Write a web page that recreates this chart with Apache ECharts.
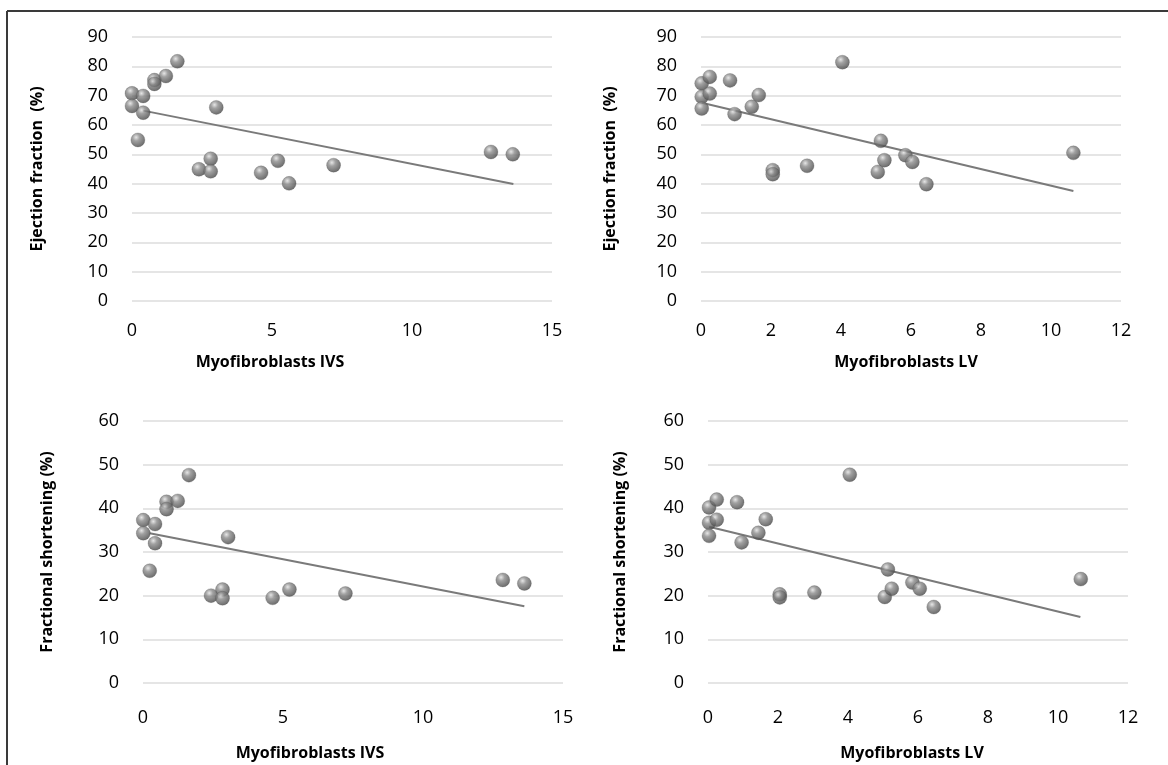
<!DOCTYPE html>
<html>
<head>
<meta charset="utf-8">
<script src="https://cdn.jsdelivr.net/npm/echarts@6/dist/echarts.min.js"></script>
<style>
html,body{margin:0;padding:0;background:#fff;}
#chart{width:1168px;height:765px;}
</style>
</head>
<body>
<div id="chart"></div>
<script>
// ---- Data ----
// Panel A: Ejection fraction vs Myofibroblasts IVS
const ivsA_x = [0, 0, 0.40, 0.40, 0.21, 0.80, 0.80, 1.21, 1.62, 3.01, 2.39, 2.81, 2.81, 4.61, 5.21, 5.61, 7.20, 12.82, 13.60];
const efA_y  = [70.8, 66.5, 69.9, 64.2, 54.9, 75.3, 74.0, 76.7, 81.7, 66.0, 44.9, 48.5, 44.2, 43.7, 47.8, 40.1, 46.3, 50.8, 50.0];
const trendA = [[0.40, 64.9], [13.62, 39.9]];

// Panel B: Ejection fraction vs Myofibroblasts LV
const lvB_x = [0.02, 0.02, 0.02, 0.25, 0.25, 0.83, 0.96, 1.45, 1.65, 2.05, 2.05, 3.03, 4.04, 5.14, 5.24, 5.05, 5.84, 6.04, 6.44, 10.64];
const efB_y = [74.2, 69.6, 65.6, 76.4, 70.7, 75.2, 63.7, 66.2, 70.2, 44.6, 43.2, 46.1, 81.4, 54.6, 48.0, 44.0, 49.7, 47.4, 39.8, 50.5];
const trendB = [[0.02, 67.6], [10.64, 37.5]];

// Panel C: Fractional shortening vs Myofibroblasts IVS
const ivsC_x = [0.01, 0.01, 0.43, 0.43, 0.24, 0.84, 0.84, 1.24, 1.64, 3.04, 2.43, 2.84, 2.84, 4.63, 5.23, 7.23, 12.85, 13.62];
const fsC_y  = [37.3, 34.3, 36.4, 32.0, 25.7, 41.5, 39.8, 41.7, 47.6, 33.4, 20.0, 21.4, 19.4, 19.5, 21.4, 20.5, 23.6, 22.8];
const trendC = [[0.24, 34.3], [13.62, 17.6]];

// Panel D: Fractional shortening vs Myofibroblasts LV
const lvD_x = [0.03, 0.03, 0.03, 0.25, 0.25, 0.83, 0.96, 1.44, 1.65, 2.05, 2.05, 3.04, 4.05, 5.14, 5.05, 5.25, 5.84, 6.05, 6.45, 10.65];
const fsD_y = [40.2, 36.7, 33.7, 42.0, 37.4, 41.4, 32.2, 34.4, 37.5, 20.3, 19.6, 20.7, 47.7, 26.0, 19.7, 21.6, 23.0, 21.6, 17.4, 23.8];
const trendD = [[0.03, 35.8], [10.64, 15.1]];

// Axis settings
const xMaxIVS = 15, xIntIVS = 5;
const xMaxLV = 12, xIntLV = 2;
const yMaxEF = 90, yIntEF = 10;
const yMaxFS = 60, yIntFS = 10;

const xNameIVS = 'Myofibroblasts IVS';
const xNameLV = 'Myofibroblasts LV';
const yNameEF = 'Ejection fraction  (%)';
const yNameFS = 'Fractional shortening (%)';

// ---- Build chart ----
const zip = (xs, ys) => xs.map((x, i) => [x, ys[i]]);
const FONT = '"Open Sans", "Liberation Sans", sans-serif';

const sphere = {
  type: 'radial', x: 0.38, y: 0.32, r: 0.7,
  colorStops: [
    {offset: 0, color: '#e0e0e0'},
    {offset: 0.35, color: '#8a8a8a'},
    {offset: 0.8, color: '#5a5a5a'},
    {offset: 1, color: '#454545'}
  ]
};

function xAxis(gi, max, interval, name, margin, nameGap, shift) {
  return {
    gridIndex: gi, type: 'value', min: 0, max: max, interval: interval,
    axisLine: {show: false}, axisTick: {show: false},
    splitLine: {show: false},
    axisLabel: {color: '#000', fontFamily: FONT, fontSize: 18, margin: margin},
    name: name, nameLocation: 'middle', nameGap: nameGap,
    nameTextStyle: {color: '#000', fontFamily: FONT, fontSize: 16, fontWeight: 'bold',
      padding: [0, shift * 2, 0, 0]}
  };
}
function yAxis(gi, max, interval, name, nameGap) {
  return {
    gridIndex: gi, type: 'value', min: 0, max: max, interval: interval,
    axisLine: {show: false}, axisTick: {show: false},
    splitLine: {show: true, lineStyle: {color: '#dcdcdc', width: 1.5}},
    axisLabel: {color: '#000', fontFamily: FONT, fontSize: 18, margin: 24},
    name: name, nameLocation: 'middle', nameGap: nameGap, nameRotate: 90,
    nameTextStyle: {color: '#000', fontFamily: FONT, fontSize: 16, fontWeight: 'bold'}
  };
}
function scatter(i, data) {
  return {
    type: 'scatter', xAxisIndex: i, yAxisIndex: i, data: data,
    symbol: 'circle', symbolSize: 14,
    itemStyle: {color: sphere, borderColor: 'rgba(70,70,70,0.6)', borderWidth: 0.5},
    z: 3, silent: true
  };
}
function trend(i, data) {
  return {
    type: 'line', xAxisIndex: i, yAxisIndex: i, data: data,
    symbol: 'none', lineStyle: {color: '#7a7a7a', width: 2}, z: 2, silent: true
  };
}

const chart = echarts.init(document.getElementById('chart'), null, {renderer: 'canvas'});
chart.setOption({
  backgroundColor: '#fff',
  animation: false,
  graphic: [
    {type: 'line', shape: {x1: 7, y1: 11, x2: 1168, y2: 11}, style: {stroke: '#3a3a3a', lineWidth: 2}},
    {type: 'line', shape: {x1: 7, y1: 11, x2: 7, y2: 765}, style: {stroke: '#3a3a3a', lineWidth: 2}}
  ],
  grid: [
    {left: 132, right: 616, top: 37, bottom: 464},
    {left: 701, right: 47, top: 37, bottom: 464},
    {left: 143, right: 605, top: 421, bottom: 82},
    {left: 708, right: 40, top: 421, bottom: 82}
  ],
  xAxis: [
    xAxis(0, xMaxIVS, xIntIVS, xNameIVS, 21, 53, 72),
    xAxis(1, xMaxLV, xIntLV, xNameLV, 21, 53, 5),
    xAxis(2, xMaxIVS, xIntIVS, xNameIVS, 26, 62, 43),
    xAxis(3, xMaxLV, xIntLV, xNameLV, 26, 62, 6)
  ],
  yAxis: [
    yAxis(0, yMaxEF, yIntEF, yNameEF, 87),
    yAxis(1, yMaxEF, yIntEF, yNameEF, 83),
    yAxis(2, yMaxFS, yIntFS, yNameFS, 88),
    yAxis(3, yMaxFS, yIntFS, yNameFS, 80)
  ],
  series: [
    trend(0, trendA), scatter(0, zip(ivsA_x, efA_y)),
    trend(1, trendB), scatter(1, zip(lvB_x, efB_y)),
    trend(2, trendC), scatter(2, zip(ivsC_x, fsC_y)),
    trend(3, trendD), scatter(3, zip(lvD_x, fsD_y))
  ]
});
</script>
</body>
</html>
